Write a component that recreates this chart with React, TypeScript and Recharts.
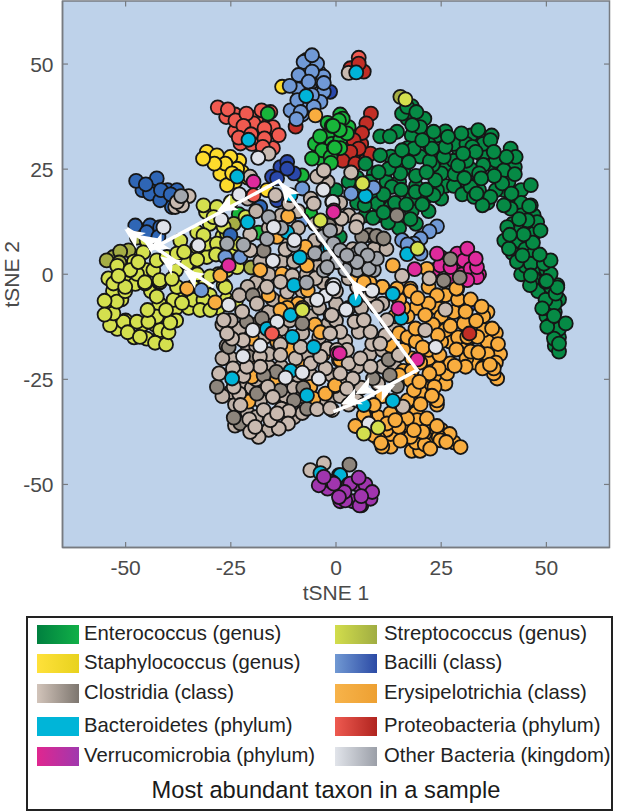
import React from "react";
import { ScatterChart, Scatter, XAxis, YAxis, ReferenceArea, ReferenceLine } from "recharts";

type P = [number, number];

const tickValues = [-50, -25, 0, 25, 50];
const axisEdge = 65;
const tickLength = 1.3;

const proteoLight: P[] = [[-24,38],[-19,34],[-21,35],[-15,35],[-18,36],[-20,31],[-15,30],[-18,32],[-24,34],[-26.1,37.4],[-18.8,37.4],[-15.6,38.6],[-19.6,35.9],[-22.7,31.1],[-28.1,39.7],[-25.7,39.2],[-23.9,36.6],[-21.3,38.2],[-17.7,39],[-22,35.3],[-17,34.7],[-13.6,33.1],[-23.1,32.5],[-20.2,33.3],[-17,32.3],[-17.4,30.3],[5.4,51.5]];
const proteoDark: P[] = [[2,30],[4,28],[6,31],[2,29],[7,27],[-9.6,35.1],[4.2,49],[6.6,48.2],[3.4,49],[5.4,50.1],[8.3,38.2],[7.2,35.9],[6.2,33.6],[4.2,31.9],[8.2,28.7],[5.4,29.9],[3.4,29.1],[1.6,27],[4.6,26.3]];
const verrucoBack: P[] = [[26,3],[29,2],[30,0],[32,4],[27,-1],[31,3],[34,0],[25,4],[23.2,1],[24.8,2.1],[24,4.9],[27.2,1.7],[28.8,4.9],[30.4,3.3],[31.2,6.1],[32,1.3],[33.5,-0.7],[31.2,-1.4],[33.5,1.7],[33.2,3.7]];
const enterococcusBack: P[] = [[26,25],[29,30],[24,33],[35,28],[37,26],[40,20],[43,18],[47,14],[46,8],[40,8],[44,0],[48,-1],[50,-5],[53,-6],[52,-9],[50,-10],[53,-15],[26,21],[25,18],[22,15],[19,12],[15,11],[13,16],[8,18],[5,23],[9,24],[26,34],[37,33],[32,33],[21,37],[18,40],[41,25],[17,37],[18,33],[20,35],[22,31],[24,29],[20,28],[17,30],[13,28],[16,25],[12,22],[8,22],[9,19],[6,20],[14,17],[18,18],[21,18],[24,20],[25,24],[23,26],[19,21],[15,22],[10,14],[14,14],[18,15],[7,14],[5,17],[3,22],[28,31],[31,31],[35,31],[38,27],[35,26],[32,25],[28,27],[31,27],[34,24],[31,22],[28,21],[30,19],[34,20],[36,17],[38,20],[39,23],[41,22],[44,20],[44,17],[44,14],[42,12],[44,11],[43,8],[46,11],[42,5],[45,6],[47,5],[45,2],[43,3],[48,1],[47,-1],[50,1],[48,-4],[51,-3],[50,-8],[52,-7],[51,-12],[52,-11],[52,-14],[52,-17],[53,-13]];
const enterococcusDark: P[] = [[46.1,-2.6],[49.8,-1.8],[52.6,-2.6],[49.8,-6.1],[52.2,-4.6],[53,-18.4],[51.8,-15.3],[50.2,-12.5],[49,-8.1],[51.8,-9.9],[54.6,-11.7],[53,-16.5],[52.6,-3.1],[51,0.1],[46.3,2.5],[49.4,2.5],[51,3.3],[47.1,9.7],[40.7,11.2],[47.8,12.4],[45.5,12.8],[41.5,15.6],[46.3,16.4],[42.5,25.5],[39.9,24.7],[28.2,23.8],[32,20.8],[32.8,18.4],[36.7,18.4],[39.5,21.6],[9.8,16.8],[13.3,20.8],[18.9,19.6],[23.2,18.8],[15.3,24],[12.5,25.1],[14.1,27.1],[18.5,29.9],[25.6,27.9],[32.4,30.3],[36.7,31.9],[41.5,29.9],[42.7,27.9],[46.3,21.2],[39.9,16.4],[34.8,16.4],[33.4,19.2],[0,20],[17.7,13.1],[12.4,12.3],[8.8,13.4],[11.3,14.7],[6.8,16.4],[16.7,16.6],[20.5,16.6],[23.6,22.4],[21.4,20.1],[15.5,20.1],[11.3,19],[46.3,-0.3],[50,-1.6],[48.4,4.7],[44.3,4.5],[41.1,6.1],[46.8,7.5],[48.6,10.4],[44.6,9.5],[41.3,9.4],[43.5,13.1],[45.9,16.2],[41.7,19.2],[42.5,23.8],[37.6,23.4],[34.5,22.8],[30.5,22.9],[22.3,26.9],[19,23.4],[21.5,24.3],[14.5,33.9],[10.5,32.8],[12.8,32.8],[10.1,24.3],[7,26.3],[10.5,28.3],[15.7,29.5],[17.3,26.7],[29,25.9],[40.5,27.9],[37.5,29.1],[33.2,29.1],[30.2,28.7],[26,30.3],[22.8,29.9],[33.8,34.3],[29.8,33.5],[26.6,32.7],[15.7,38.2],[16.9,39.8],[19.1,38.6],[23.2,33.9],[20.5,31.9],[18.1,35.5],[18.5,-32.3],[0.9,8.9]];
const enterococcusBright: P[] = [[-2,33],[-1,31],[1,32],[-4,30],[-3,27],[-2,36],[1,30],[3,35],[1,38],[-5,31],[-16.2,38.2],[2.6,33.5],[1.6,37],[0.7,36.6],[-1,35.3],[-3.8,32.8],[-3.3,29.5],[-5.7,27.5],[-0.5,30.1],[-1.3,27.9],[0.9,34.3],[-0.7,35.3],[-0.3,30.1],[-1.2,26.5],[-8.1,23.5],[-6.1,14.4],[-18.4,9.9],[-23.1,14.3]];
const strepDark: P[] = [[15.3,42.2],[-47.3,8.7],[-49.3,5.7],[-52.9,4.1],[-51.3,5.4],[-54.5,3.3],[-51.5,2.8],[-24.3,12],[-20.2,1.6]];
const strepBack: P[] = [[-52,2],[-49,-1],[-44,-4],[-51,-6],[-53,-4],[-54,-8],[-46,-12],[-43,-12],[-42,-7],[-38,-8],[-35,-8],[-35,-4],[-31,-2],[-28,0],[-33,0],[-38,1],[-42,-2],[-45,1],[-48,3],[-45,8],[-37,8],[-33,10],[-30,12],[-27,9],[-24,5],[-21,6],[-26,1],[-52,-13],[-48,-15],[-50,-11],[-42,-15],[-38,-11],[-37,-4],[-34,-3],[-26,-6],[-28,-8],[-30,-5],[-50,-2]];
const strepLight: P[] = [[16.5,41.6],[-53.7,-12.1],[-50.5,-11.3],[-52.9,-9.3],[-52.1,-6.5],[-47.3,-11.3],[-41.8,-13.3],[-45,-15.3],[-42.6,-10.1],[-38.6,-6.1],[-33.9,-6.1],[-31.5,-6.1],[-32.3,-8.5],[-37.8,-3],[-55,-6.3],[-55,-9.6],[-49.5,-13.8],[-46.6,-14.9],[-43,-16.3],[-40.4,-16.7],[-39.8,-13.8],[-39.4,-11.5],[-44.6,-11.3],[-44.8,-8.5],[-40.4,-8.5],[-36.6,-6.8],[-42.6,-5.3],[-50.1,-4],[-47.7,-2.3],[-45.4,-2.2],[-41.8,-1.8],[-26.7,-2.6],[-23.8,-6.4],[-29.9,-8.5],[-54.1,-1],[-52.9,-2.2],[-50.1,-3],[-47.3,0.1],[-43.4,1],[-35.4,2.5],[-30.7,4.1],[-30.7,7.3],[-28.3,7.3],[-25.9,9.7],[-26.7,11.3],[-21.5,13.6],[-23.5,1.7],[-48.9,1],[-42.6,3.3],[-40.2,4.1],[-37.8,4.9],[-33,6.5],[-45.8,5.2],[-47,2.9],[-51.7,-0.4],[-45.4,-1.9],[-41.9,-1.4],[-39,-1.1],[-36.1,5.3],[-33,3.5],[-28.5,4.7],[-29.9,-0.5],[-26.3,-3.1],[-23.5,7.3],[-31.5,9.3],[-30.9,14.8],[-31.5,16.4],[-28.3,16],[-29.1,13.6],[-25,17.2]];
const staph: P[] = [[-27,26],[-24,22],[-26,24],[-29,28],[-23,27],[-21,23],[-25,25],[-12.8,44.6],[-16.4,20],[-30.7,29.1],[-28.3,28.3],[-25.1,27.9],[-22.3,24.3],[-23.5,25.1],[-27.5,23.9],[-25.9,21.2],[-26.3,26.3],[-28.9,26.3],[-31.6,27.5],[-24.7,24]];
const bacilliDark: P[] = [[-1.4,43.4],[31.6,-7.3],[-14,17.6],[-13.2,25.5],[-15.2,23.2],[-10,24],[-11.6,26.7],[-14,22.8],[-11.6,25.1]];
const bacilliMid: P[] = [[-46,20],[-43,20],[-40,20],[-39,16],[-44,21],[-42.6,22.8],[-44.2,19.2],[-41.8,17.6],[-37.8,20],[-47.5,22.2],[-45.2,21.4],[-41.6,20],[-39.3,19],[-47.7,11.6],[-44.2,11.6],[-41.8,11.2],[-45,10],[-42.2,8.9],[-25.1,9.3],[-18,16]];
const bacilliLight: P[] = [[-5,50],[-4,48],[-6,44],[-9,44],[-8,38],[-4,43],[-7,51],[-3,47],[-4.5,50.1],[-2.9,43.4],[-3.7,41],[-10.8,39],[-7.3,40.2],[-7.7,50.5],[-5.7,52.1],[-5.7,48.2],[-8.9,47.4],[-6.5,45.8],[-2.9,45.5],[-11,44.8],[-5.7,42.6],[-9.2,41.4],[-5.3,39.8],[-8.4,38.6],[-9.4,36.9],[-22.7,4.1],[-26.3,4.1],[-8,12.8],[-8,20.4],[-32,-3.8],[8.9,20.6],[3.6,19.2],[24,11.4],[22.2,10.2],[20.1,8.5],[15.7,8.1],[18.5,7.3],[17.7,6.5],[20.1,4.9],[17,7.1],[9.2,-34.2],[4.6,-28],[10.9,-3]];
const clostridiaBack: P[] = [[-27,-12],[-26,-17],[-25,-20],[-27,-20],[-23,-13],[-21,-17],[-19,-12],[-17,-15],[-16,-9],[-13,-13],[-11,-11],[-8,-14],[-6,-10],[-4,-8],[-2,-12],[0,-7],[3,-8],[6,-8],[-24,-31],[-25,-28],[-22,-27],[-20,-27],[-18,-30],[-15,-26],[-12,-29],[-10,-27],[-8,-29],[-5,-31],[-3,-30],[-1,-29],[1,-29],[-27,-29],[-24,-36],[-21,-33],[-19,-34],[-16,-37],[-13,-32],[-10,-34],[-8,-33],[-6,-24],[-9,-24],[-13,-22],[-16,-22],[-19,-25],[-1,-24],[2,-25],[5,-22],[8,-19],[11,-18],[13,-15],[11,-22],[14,-22],[6,-27],[10,-26],[3,-31],[5,-30],[-19,-17],[-16,-19],[-11,-17],[-7,-19],[-4,-15],[0,-11],[-19,-2],[-16,0],[-13,3],[-10,3],[-7,0],[-4,2],[-8,6],[-5,8],[-12,9],[-9,11],[-18,3],[-21,-3],[-23,-5],[-25,-11],[-3,12],[0,11],[3,14],[-5,12],[-6,18],[-9,15],[-13,14],[-16,11],[-19,15],[-21,18],[-2,22],[1,17],[4,6],[9,6],[12,6],[5,-3],[8,-5],[11,-7],[14,-13],[17,-16],[-6,-6],[-3,-2],[0,-4],[3,-1],[-8,-4],[-15,-6],[-17,-4]];
const erysipeloBack: P[] = [[32,-15],[36,-9],[26,-5],[24,-8],[27,-16],[30,-18],[38,-14],[39,-19],[33,-21],[18,-20],[16,-23],[24,-31],[16,-33],[19,-33],[22,-36],[25,-37],[28,-40],[13,-41],[18,-42],[11,-41],[23,-39],[20,-42],[7,-37],[14,-10],[11,-3],[8,-2],[5,-1],[19,-8],[17,-10],[15,-14],[13,-17],[16,-18],[18,-23],[15,-24],[22,-3],[24,-5],[25,-10],[22,-7],[23,-12],[28,-9],[25,-16],[29,-15],[31,-12],[35,-10],[34,-14],[36,-16],[36,-19],[31,-20],[22,-20],[20,-21],[17,-15],[16,-8],[15,-6],[19,-16],[25,-25],[21,-27],[26,-26],[24,-30],[20,-28],[17,-30],[14,-31],[10,-34],[8,-36],[13,-38],[17,-36],[19,-40],[21,-38],[24,-37],[27,-38],[12,-37],[7,-34],[11,-29],[22,-18],[29,-6],[32,-6],[35,-22],[38,-21],[-16,-5],[-12,-6],[-9,-7],[-14,-16],[-8,-8],[-5,-12],[-3,-19],[-8,-22],[-14,-25],[-20,-20]];
const erysipelo: P[] = [[-4.9,37.8],[-3.1,24.3],[-14,8.9],[-7.3,6.5],[-18,1],[-27.5,-0.3],[-12.8,0.1],[-6.9,2.1],[-11.4,13.8],[-35.4,-3.4],[-28.7,-6.7],[-6.7,-3.8],[-11.6,-8],[-3.7,-13.8],[-11.1,-18],[-13.2,-8.5],[-6.1,-26.8],[-20.8,-30.3],[-20,-24.4],[-20,-15.3],[-5.3,-29.6],[-0.3,-26.6],[0.7,-20.4],[-2.5,-28.4],[13.5,2.1],[6.6,-1.9],[21.6,1.3],[17.7,-3.4],[14.5,-3.4],[28.8,-3.4],[38.3,-24.8],[37.5,-23.6],[37.5,-22.4],[34.8,-22.4],[30.8,-22],[26.4,-23.6],[27.2,-21.2],[24.4,-22.4],[17.7,-25.2],[18.5,-27.6],[26,-13.3],[32,-18.4],[31.2,-14.9],[35.1,-13.3],[33.6,-14.9],[24.4,-38.7],[19.3,-34.7],[21.6,-34.3],[17.7,-38.7],[10.1,-39.1],[9,-38.3],[24.8,-39.5],[6.6,-33.5],[12.9,-33.1],[16.9,-34.3],[14.9,-36.3],[12.1,-35.5],[17.7,-4],[19.4,-5.7],[21.2,-9.7],[18.9,-12.9],[24.2,-14.5],[27.2,-12.3],[30.4,-11.7],[33.3,-11.1],[34.6,-7.7],[28.6,-3.4],[30.8,-8.9],[37.1,-12.9],[38.5,-16.6],[28.6,-17.9],[33.8,-18.6],[20.6,-17.4],[24.6,-19.2],[28.2,-21.8],[36.6,-21.5],[22.2,-23.6],[19.8,-25.6],[23.4,-26.8],[22.8,-28.9],[20.1,-30.9],[9,-31.1],[4.6,-36.1],[14.1,-34.7],[10.7,-40.1],[15.3,-39.6],[21.1,-40.5],[26.2,-39.9],[29.6,-41.1],[24,-36.1],[20.6,-37.5],[18.5,-37.1],[22.4,-41.5],[-0.2,-26.4],[1,-20.4]];
const clostridiaDark: P[] = [[-17.2,5.6],[-1.7,11.6],[-8,-11.7],[-28.3,-26.8],[-14.2,-23.2],[-17.6,-10.5],[-19.8,-5],[-21.2,-11.3],[-7.8,-27],[-22.7,-35.5],[-24.3,-34.1],[-25.5,-17.3],[-10,-30],[-6.9,-32],[-18.8,-28.4],[-13.2,-27.6],[-20.8,-19.6],[-17.2,-24],[7.8,9.3],[9.6,9.1],[11.3,8.5],[6.2,8.9],[27.2,3.6],[25.6,-1.5],[29.4,-0.8],[14.5,14],[12.5,-20.3],[12.8,-24],[8.8,-24.8],[14.5,-26.6],[3.2,-45.3]];
const clostridiaLight: P[] = [[-35,18.6],[-38.2,16],[-36.6,16.4],[-37.8,17.2],[-20.4,23.2],[-16,28.7],[-20.4,9.5],[-20.4,5.7],[-12,5.9],[-4.5,4.9],[-4.9,-1],[-0.9,-2.6],[-10.4,-0.3],[-11.2,16.8],[-4.5,23.2],[-2.9,24.7],[-5.3,16.8],[-14.4,18.8],[3.6,24.2],[1.3,13.2],[5.1,12.8],[4.8,11.2],[15.7,-0.4],[22.2,-1],[3,47.9],[-11.6,-4.2],[-1.3,-9.7],[-22.1,-15.7],[-13.2,-16.7],[-2.1,-17.7],[-18.1,-19.6],[-9.6,-20],[-24.5,-22.4],[-22,-24.2],[-27.8,-23.6],[-16.2,-26.8],[-2.5,-22.4],[-23,-28.4],[-15,-29.2],[-4.5,-32.1],[-11.2,-32.6],[-17.2,-32.3],[-20.6,-34.5],[-18.4,-38.7],[-20.4,-37.5],[-11.4,-35.5],[-13.6,-36.7],[-24.7,-15.3],[-25.9,-14.1],[-26.7,-10.9],[-22.3,-8.9],[-18.8,-7],[-16.4,-3],[-13.2,-1.8],[-18,-22],[-0.9,-32.3],[-24.3,-26.8],[-22.7,-31.1],[-19.2,-36.3],[-15.6,-34.7],[-14,-33.1],[-8.4,-17.3],[-6,-21.2],[-3.7,-19.6],[-13.2,-19.2],[-21.2,-22],[-6.1,-46.6],[-2.9,-45],[15.9,-31.5],[26,-8.4],[21.2,-13.3],[2.2,-15.9],[8.6,-16.6],[5.4,-13.7],[8.2,-13.7],[1,-13.7],[4.4,-11.3],[11.7,-14.5],[3,-21.2],[4,-24.8],[14.9,-19.2],[-1,-9.7],[-1.4,-14.1],[9.7,-7.7],[5.8,-20],[1,-23.6],[2.6,-27.2],[-1.4,-31.9],[10.5,-16.5],[12.1,-10.9],[2.6,-18],[6.6,-10.9],[0.2,-18],[8.2,-22]];
const bacteroidetes: P[] = [[-7.1,42.4],[-20.8,32],[-23.5,23.2],[-21,12.4],[-11.6,10],[-10.8,18.8],[-8.6,4],[-2,6.1],[4.8,48],[7,18.6],[16.9,4.8],[-1.4,6.5],[-16.4,-13],[-10.8,-23],[-10.4,-14.9],[-5.3,-17.3],[-10.8,-9.7],[-24.7,-24.8],[-6.9,-28.8],[-10,-2.6],[-3.7,-47.3],[0.7,-47.8],[4.6,-6.1],[15.5,-10.4],[13.5,-4.7],[13.5,-30.1],[1,-47.8],[6.6,-31.1]];
const otherDark: P[] = [[-10,7],[-5,5],[-13,11],[-22,7],[3,3],[5,5],[-2,4],[5,1],[9,1],[-3,9],[-7,-2],[6,6],[-25.9,7.3],[-16.4,8.4],[0.3,3.3],[-2.9,0.9],[-1.4,10.4],[-0.6,7.3],[2.2,1],[7.8,1.3],[0.2,2.9],[9.7,3.7],[1,5.7],[7.5,4.5],[5,2.9],[2.6,4.5],[-36.8,18.6],[-16,13.6],[-2.1,1.7]];
const otherLight: P[] = [[-27.3,13],[-32.7,6.9],[-23,19],[-18.5,27.7],[-41,11.2],[-9.9,8.1],[-15,3.2],[-3,20.1],[-0.9,17.2],[-14.8,11.2],[-0.8,17.2],[-2.5,-5.1],[-4.5,-6.1],[-19.8,-13.3],[-18,-17],[-8,-23.4],[-12,-24.6],[-4.1,-24.8],[-22.1,-19.5],[-14,-11.3],[-0.5,-2.6],[-25.5,-7.3],[23.7,-17.3],[2.4,-8.4],[8.6,-3.9],[-0.7,-3.4],[7.8,-35.5]];
const verrucoFront: P[] = [[-0.5,15.2],[-25.5,2.1],[-19.6,22],[-0.6,14.8],[18.7,1.2],[0.3,-18.8],[14.8,-8.1],[0.9,-18.8],[19.3,-20.3]];
const verrucoPurple: P[] = [[3,-50],[5,-50],[7,-50],[1,-54],[4,-54],[-2,-51],[6,-55],[8,-53],[-1,-49.4],[8.2,-53.4],[8.6,-51.8],[3.4,-49.8],[2.2,-53.8],[5.6,-55],[2,-51.8],[6,-52.8],[5.4,-48.4],[-4.1,-50.2],[-0.5,-49.8],[0.7,-53],[-2.9,-48.2]];
const strepFront: P[] = [[-8,-8.5],[-3.7,12.8],[10,-36.5],[6.6,-37.9],[6.3,21.6],[19.4,6.1]];
const proteoFront: P[] = [[-19.6,18.8],[-15.2,-14.1]];
const proteoDarkFront: P[] = [[31.7,-14.1]];

const pathLower: P[] = [[-0.6,-32.7],[6.6,-29.8],[11.3,-27.1],[19.3,-22.8],[-13.6,22.2],[-44.2,5.8]];
const pathUpper: P[] = [[-29.1,-3],[-49.7,10.9]];
// tip x, tip y, direction x, direction y
const arrowTips: [number, number, number, number][] = [[-28.3,14.9,-1,-0.54],[-50.3,10.7,-1,0.68],[-46.5,9.3,-1,0.68],[-44.6,5.7,-1,-0.54],[-41.8,4.2,-1,0.68],[-36.2,1,-1,0.68],[3.6,-1.2,-0.72,1],[-13.1,21.8,-0.72,1],[14.1,-26.3,1,0.5],[1.2,-30.9,-1,-0.45],[4.6,-28.5,-1,-0.5]];

const legendLeft: [string, string][] = [["Enterococcus (genus)","linear-gradient(90deg,#00803f,#11b048)"],["Staphylococcus (genus)","linear-gradient(90deg,#ffe13a,#e8d21e)"],["Clostridia (class)","linear-gradient(90deg,#d2c4ba,#7d766f)"],["Bacteroidetes (phylum)","linear-gradient(90deg,#00b5d8,#00b5d8)"],["Verrucomicrobia (phylum)","linear-gradient(90deg,#e0268f,#a038ae)"]];
const legendRight: [string, string][] = [["Streptococcus (genus)","linear-gradient(90deg,#d2dd4c,#a0ad42)"],["Bacilli (class)","linear-gradient(90deg,#7199d3,#2b4aa5)"],["Erysipelotrichia (class)","linear-gradient(90deg,#f7b34a,#eda032)"],["Proteobacteria (phylum)","linear-gradient(90deg,#ee5a50,#b0241f)"],["Other Bacteria (kingdom)","linear-gradient(90deg,#e1e4ea,#9b9fa8)"]];
const legendRows = [625, 654, 684, 717, 747];

const toPts = (a: P[]) => a.map(([x, y]) => ({ x, y }));

const Dot = (p: any) => <circle cx={p.cx} cy={p.cy} r={7} fill={p.fill} stroke="#161616" strokeWidth={1.8} />;
const Arrow = (p: any) => {
  const { dx, dy } = p.payload;
  const ang = (Math.atan2(-dy, dx) * 180) / Math.PI;
  return <polygon points="0,0 -20,-9 -15,0 -20,9" fill="#fff" transform={`translate(${p.cx},${p.cy}) rotate(${ang})`} />;
};
const NoDot = () => <g />;

const series: [P[], string][] = [
  [proteoLight, "#f05a50"],
  [proteoDark, "#c22e26"],
  [verrucoBack, "#de2a9c"],
  [enterococcusBack, "#068a45"],
  [enterococcusDark, "#068a45"],
  [enterococcusBright, "#18b53a"],
  [strepDark, "#a6ae45"],
  [strepBack, "#d4e04e"],
  [strepLight, "#d4e04e"],
  [staph, "#fddb2c"],
  [bacilliDark, "#2a48ab"],
  [bacilliMid, "#2f66b5"],
  [bacilliLight, "#7099d6"],
  [clostridiaBack, "#c0b2a8"],
  [erysipeloBack, "#f9ad3f"],
  [erysipelo, "#f9ad3f"],
  [clostridiaDark, "#8d857c"],
  [clostridiaLight, "#c9bab0"],
  [bacteroidetes, "#00b4d8"],
  [otherDark, "#a3a7ae"],
  [otherLight, "#e0e3ea"],
  [verrucoFront, "#de2a9c"],
  [verrucoPurple, "#a035ae"],
  [strepFront, "#d4e04e"],
  [proteoFront, "#f05a50"],
  [proteoDarkFront, "#c22e26"],
];

const axisText = { fill: "#4a4a4a", fontSize: 21, fontFamily: "Liberation Sans" };
const box = "#777b81";

const tickSegments: { x: number; y: number }[][] = tickValues.flatMap((t) => [
  [{ x: t, y: -axisEdge }, { x: t, y: -axisEdge + tickLength }],
  [{ x: t, y: axisEdge }, { x: t, y: axisEdge - tickLength }],
  [{ x: -axisEdge, y: t }, { x: -axisEdge + tickLength, y: t }],
  [{ x: axisEdge, y: t }, { x: axisEdge - tickLength, y: t }],
]);

export default function App() {
  return (
    <div style={{ position: "absolute", left: 0, top: 0, width: 620, height: 812, fontFamily: "Liberation Sans" }}>
      <ScatterChart width={620} height={612} margin={{ top: 1, right: 10.5, bottom: 0, left: 0 }}>
        <XAxis type="number" dataKey="x" domain={[-axisEdge, axisEdge]} ticks={tickValues} height={64.5} tickLine={false} tickSize={0} tickMargin={13} tick={axisText} stroke={box} strokeWidth={1.5}
          label={{ value: "tSNE 1", position: "insideBottom", offset: 12, style: axisText }} />
        <YAxis type="number" dataKey="y" domain={[-axisEdge, axisEdge]} ticks={tickValues} width={62.5} tickLine={false} tickSize={0} tickMargin={9} tick={axisText} stroke={box} strokeWidth={1.5}
          label={{ value: "tSNE 2", angle: -90, position: "insideLeft", offset: 12, style: { ...axisText, textAnchor: "middle" } }} />
        <ReferenceArea x1={-axisEdge} x2={axisEdge} y1={-axisEdge} y2={axisEdge} fill="#bed2ea" fillOpacity={1} stroke={box} strokeWidth={1.5} ifOverflow="visible" />
        {tickSegments.map((s, i) => (
          <ReferenceLine key={i} segment={s} stroke={box} strokeWidth={1.2} ifOverflow="visible" />
        ))}
        {series.map(([d, c], i) => (
          <Scatter key={i} data={toPts(d)} fill={c} shape={Dot} isAnimationActive={false} />
        ))}
        <Scatter data={toPts(pathLower)} line={{ stroke: "#fff", strokeWidth: 3.5 }} shape={NoDot} isAnimationActive={false} />
        <Scatter data={toPts(pathUpper)} line={{ stroke: "#fff", strokeWidth: 3.5 }} shape={NoDot} isAnimationActive={false} />
        <Scatter data={arrowTips.map(([x, y, dx, dy]) => ({ x, y, dx, dy }))} shape={Arrow} isAnimationActive={false} />
      </ScatterChart>
      <div style={{ position: "absolute", left: 26, top: 616, width: 587, height: 195, border: "2px solid #222", boxSizing: "border-box", background: "#fff" }} />
      {[...legendLeft.map((r, i) => ({ r, i, sx: 36.5, tx: 84 })), ...legendRight.map((r, i) => ({ r, i, sx: 335, tx: 384 }))].map(({ r, i, sx, tx }) => (
        <React.Fragment key={r[0]}>
          <div style={{ position: "absolute", left: sx, top: legendRows[i], width: 42, height: 19, background: r[1] }} />
          <div style={{ position: "absolute", left: tx, top: legendRows[i] - 3.5, height: 23, lineHeight: "23px", fontSize: 20.3, color: "#222", whiteSpace: "nowrap" }}>{r[0]}</div>
        </React.Fragment>
      ))}
      <div style={{ position: "absolute", left: 26, width: 600, top: 777, lineHeight: "26px", textAlign: "center", fontSize: 23.7, color: "#1a1a1a", whiteSpace: "nowrap" }}>Most abundant taxon in a sample</div>
    </div>
  );
}
